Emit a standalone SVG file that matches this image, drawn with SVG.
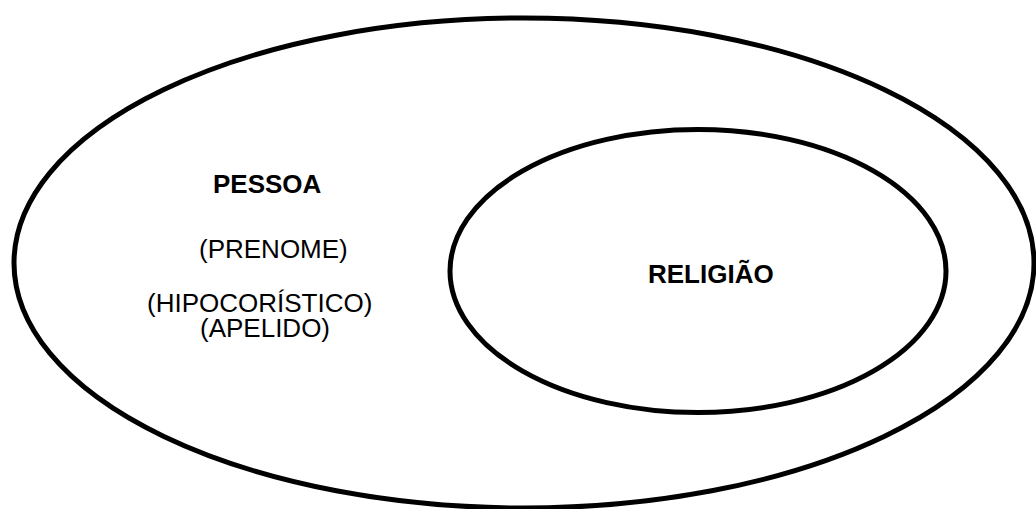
<svg xmlns="http://www.w3.org/2000/svg" width="1036" height="509" viewBox="0 0 1036 509">
<style>
.ring{fill:none;stroke:#000;stroke-width:5}
.t{font-family:"Liberation Sans",Arial,sans-serif;font-size:26px;fill:#000}
.b{font-weight:bold}
</style>
<rect width="1036" height="509" fill="#fff"/>
<g id="pessoa">
<ellipse class="ring" cx="524" cy="263" rx="510" ry="245"/>
<text class="t b" x="213" y="193">PESSOA</text>
<text class="t" x="199" y="258">(PRENOME)</text>
<text class="t" x="147" y="312">(HIPOCORÍSTICO)</text>
<text class="t" x="200" y="337">(APELIDO)</text>
</g>
<g id="religiao">
<ellipse class="ring" cx="698" cy="271" rx="248" ry="141.5"/>
<text class="t b" x="648" y="283" font-size="25">RELIGIÃO</text>
</g>
<g id="connectors"/>
</svg>
